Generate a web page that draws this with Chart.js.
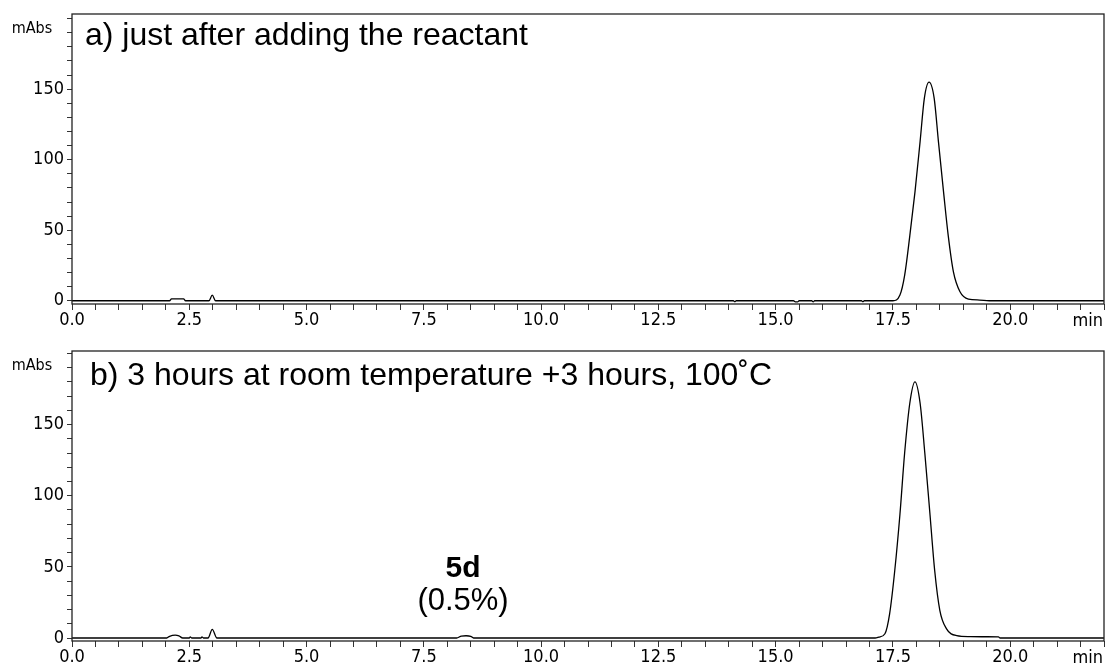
<!DOCTYPE html>
<html>
<head>
<meta charset="utf-8">
<script src="https://cdn.jsdelivr.net/npm/chart.js@4.4.1/dist/chart.umd.min.js"></script>
<style>
  body { margin: 0; background: #fff; }
  #wrap { position: relative; width: 1108px; height: 667px; }
  canvas { position: absolute; left: 0; }
</style>
</head>
<body>
<div id="wrap">
  <canvas id="chartA" width="1108" height="333" style="top:0"></canvas>
  <canvas id="chartB" width="1108" height="334" style="top:333px"></canvas>
</div>
<script>
// retention time (min) / absorbance (mAbs)
const timeA = [0, 2.08, 2.12, 2.38, 2.42, 2.92, 2.99, 3.06, 14.1, 14.13, 14.16,
  15.38, 15.42, 15.47, 15.5, 15.77, 15.8, 15.83, 16.83, 16.86, 16.89, 17.5,
  17.65, 17.75, 17.86, 17.97, 18.08, 18.17, 18.27, 18.38, 18.47, 18.58, 18.68,
  18.79, 18.93, 19.11, 19.35, 19.55, 22];
const signalA = [0, 0, 1.3, 1.3, 0, 0, 4, 0, 0, -0.6, 0,
  0, -0.8, -0.8, 0, 0, -0.8, 0, 0, -0.6, 0, 0,
  4, 18, 46, 77, 113, 143.5, 155, 143.5, 113, 77, 46,
  20.5, 6.4, 1.2, 0.5, 0, 0];

const timeB = [0, 2.02, 2.08, 2.2, 2.28, 2.36, 2.5, 2.52, 2.55, 2.75, 2.77, 2.8,
  2.9, 2.99, 3.09, 8.2, 8.3, 8.4, 8.5, 8.56, 17.12, 17.2, 17.33, 17.43, 17.54,
  17.65, 17.75, 17.86, 17.97, 18.08, 18.18, 18.29, 18.39, 18.5, 18.64, 18.86,
  19.15, 19.5, 19.75, 19.78, 22];
const signalB = [0, 0, 1.2, 2, 1.5, 0, 0, 0.8, 0, 0, 0.8, 0,
  0, 6, 0, 0, 1.4, 1.6, 1.2, 0, 0, 0.6, 3, 17, 47.6,
  87, 130, 165, 180, 165, 130, 87, 47.6, 19.5, 6.6, 1.7,
  1, 0.9, 0.8, 0, 0];

const xLabelTicks = [0, 2.5, 5, 7.5, 10, 12.5, 15, 17.5, 20];
const yLabelTicks = [0, 50, 100, 150];

const narrow = "'Liberation Sans Narrow', 'Arial Narrow', 'DejaVu Sans Condensed', 'DejaVu Sans', sans-serif";
const sans = "'Liberation Sans', Arial, sans-serif";

// frame + text overlays
const panelDecor = {
  id: 'panelDecor',
  afterDraw(chart, args, opts) {
    const { ctx, chartArea: a, scales } = chart;
    ctx.save();
    ctx.strokeStyle = '#222';
    ctx.lineWidth = 1.3;
    ctx.strokeRect(a.left, a.top, a.right - a.left, a.bottom - a.top);

    ctx.fillStyle = '#000';
    ctx.textBaseline = 'middle';
    ctx.textAlign = 'center';
    ctx.font = '16px ' + narrow;
    ctx.fillText('mAbs', 32, a.top + 15);

    ctx.textAlign = 'right';
    ctx.font = '18px ' + narrow;
    ctx.fillText('min', a.right - 1, a.bottom + 17);

    ctx.textAlign = 'left';
    ctx.textBaseline = 'alphabetic';
    ctx.font = '32px ' + sans;
    ctx.fillText(opts.title, a.left + opts.titleDx, a.top + opts.titleDy);

    if (opts.peakLabel) {
      const px = scales.x.getPixelForValue(opts.peakLabel.at);
      ctx.textAlign = 'center';
      ctx.font = 'bold 30px ' + sans;
      ctx.fillText(opts.peakLabel.name, px - 3, a.top + 226);
      ctx.font = '31px ' + sans;
      ctx.fillText(opts.peakLabel.note, px - 3, a.top + 259);
    }
    ctx.restore();
  }
};

function makeChart(id, times, signal, yMin, yMax, padTop, xHeight, decor) {
  return new Chart(document.getElementById(id), {
    type: 'line',
    data: {
      datasets: [{
        data: times.map((t, i) => ({ x: t, y: signal[i] })),
        borderColor: '#000',
        borderWidth: 1.3,
        pointRadius: 0,
        cubicInterpolationMode: 'monotone',
        fill: false
      }]
    },
    options: {
      responsive: false,
      animation: false,
      layout: { padding: { top: padTop, right: 4, left: 0, bottom: 0 } },
      plugins: {
        legend: { display: false },
        tooltip: { enabled: false },
        panelDecor: decor
      },
      scales: {
        x: {
          type: 'linear',
          min: 0,
          max: 22,
          afterFit: s => { s.height = xHeight; },
          afterBuildTicks: s => {
            const t = [];
            for (let v = 0; v <= 22; v += 0.5) t.push({ value: v });
            s.ticks = t;
          },
          grid: { drawOnChartArea: false, drawTicks: true, tickLength: 6, color: '#333' },
          border: { display: false },
          ticks: {
            autoSkip: false,
            maxRotation: 0,
            padding: 0,
            color: '#000',
            font: { family: narrow, size: 18 },
            callback: v => xLabelTicks.includes(v) ? v.toFixed(1) : ''
          }
        },
        y: {
          min: yMin,
          max: yMax,
          afterFit: s => { s.width = 72; },
          afterBuildTicks: s => {
            const t = [];
            for (let v = 0; v <= 200; v += 10) t.push({ value: v });
            s.ticks = t;
          },
          grid: { drawOnChartArea: false, drawTicks: true, tickLength: 5, color: '#333' },
          border: { display: false },
          ticks: {
            autoSkip: false,
            padding: 3,
            color: '#000',
            font: { family: narrow, size: 18 },
            callback: v => yLabelTicks.includes(v) ? String(v) : ''
          }
        }
      }
    },
    plugins: [panelDecor]
  });
}

makeChart('chartA', timeA, signalA, -2.3, 203.3, 14, 29,
  { title: 'a) just after adding the reactant', titleDx: 13, titleDy: 31 });
makeChart('chartB', timeB, signalB, -2.1, 201.7, 18, 26,
  { title: 'b) 3 hours at room temperature +3 hours, 100\u02DAC', titleDx: 18, titleDy: 34,
    peakLabel: { at: 8.4, name: '5d', note: '(0.5%)' } });
</script>
</body>
</html>
